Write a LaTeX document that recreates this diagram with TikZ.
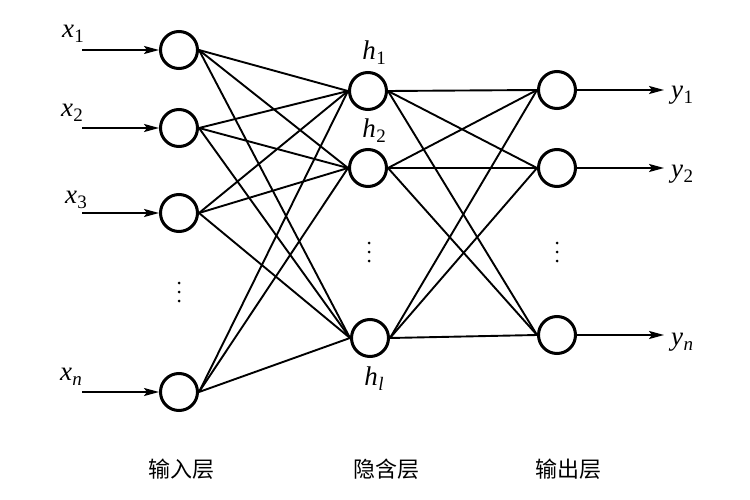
\documentclass[tikz,border=0pt]{standalone}
\usepackage{fontspec}
\setmainfont{Liberation Serif}
\newfontfamily\tms{Liberation Serif}
\newfontfamily\cjk{Noto Sans CJK SC}
\usetikzlibrary{arrows.meta}
\newcommand{\lbl}[2]{{\tms\itshape #1}\kern0.5pt\raisebox{-5pt}{\tms\fontsize{19}{19}\selectfont #2}}
\begin{document}
\begin{tikzpicture}[x=1pt,y=-1pt,
  neuron/.style={circle,draw,line width=3pt,minimum size=37pt,inner sep=0pt},
  conn/.style={line width=1.9pt},
  arr/.style={line width=1.9pt,-{Stealth[length=15pt,width=8pt,inset=3pt]}},
  var/.style={font=\tms\fontsize{27}{30}\selectfont,inner sep=0pt},
  layer/.style={font=\cjk\fontsize{22}{24}\selectfont,inner sep=0pt},
  dotmark/.style={fill=black}]
\useasboundingbox (0,0) rectangle (750,500);
% input layer
\node[neuron] (i1) at (179,50) {};
\node[neuron] (i2) at (179,128) {};
\node[neuron] (i3) at (179,213) {};
\node[neuron] (in) at (179,392) {};
% hidden layer
\node[neuron] (h1) at (368,91) {};
\node[neuron] (h2) at (368,168) {};
\node[neuron] (hl) at (370,338) {};
% output layer
\node[neuron] (o1) at (557,90) {};
\node[neuron] (o2) at (557,168) {};
\node[neuron] (on) at (557,335) {};
% input arrows
\coordinate (s1) at (82,50);
\coordinate (s2) at (82,128);
\coordinate (s3) at (82,213);
\coordinate (sn) at (82,392);
\draw[arr] (s1) -- (i1.west);
\draw[arr] (s2) -- (i2.west);
\draw[arr] (s3) -- (i3.west);
\draw[arr] (sn) -- (in.west);
% output arrows
\coordinate (t1) at (664,90);
\coordinate (t2) at (664,168);
\coordinate (tn) at (664,335);
\draw[arr] (o1.east) -- (t1);
\draw[arr] (o2.east) -- (t2);
\draw[arr] (on.east) -- (tn);
% connections
\foreach \a in {i1,i2,i3,in}
  \foreach \b in {h1,h2,hl}
    \draw[conn] (\a.east) -- (\b.west);
\foreach \a in {h1,h2,hl}
  \foreach \b in {o1,o2,on}
    \draw[conn] (\a.east) -- (\b.west);
% labels
\node[var] (lx1) at (73,34) {\lbl{x}{1}};
\node[var] (lx2) at (72,113) {\lbl{x}{2}};
\node[var] (lx3) at (76,200) {\lbl{x}{3}};
\node[var] (lxn) at (71,377) {\lbl{x}{\textit{n}}};
\node[var] (lh1) at (374,53) {\lbl{h}{1}};
\node[var] (lh2) at (374,131) {\lbl{h}{2}};
\node[var] (lhl) at (374,379) {\lbl{h}{\textit{l}}};
\node[var,anchor=west] (ly1) at (671,95) {\lbl{y}{1}};
\node[var,anchor=west] (ly2) at (671,174) {\lbl{y}{2}};
\node[var,anchor=west] (lyn) at (671,342) {\lbl{y}{\textit{n}}};
% dots
\foreach \y in {283,292,301} \fill[dotmark] (179,\y) circle (1.5pt);
\foreach \y in {243,252,261} \fill[dotmark] (369,\y) circle (1.5pt);
\foreach \y in {243,252,261} \fill[dotmark] (557,\y) circle (1.5pt);
% layer names
\node[layer] (n1) at (181,469) {输入层};
\node[layer] (n2) at (386,469) {隐含层};
\node[layer] (n3) at (568,469) {输出层};
\end{tikzpicture}
\end{document}
